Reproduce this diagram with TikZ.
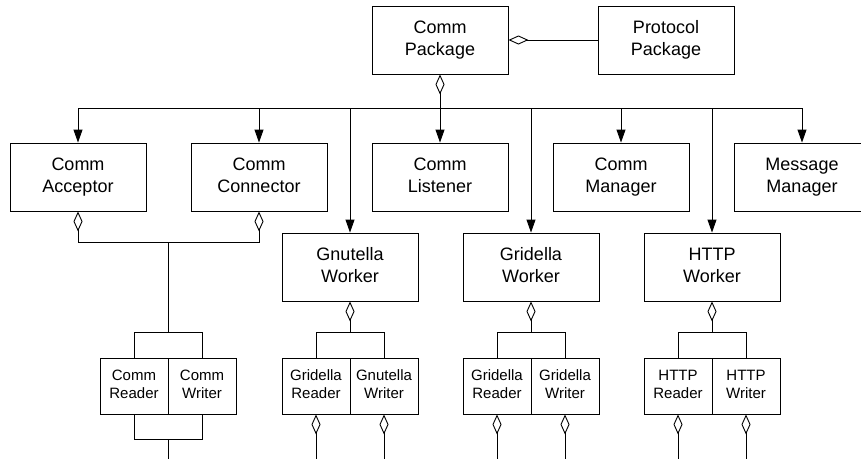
\documentclass[tikz,border=0pt]{standalone}
\usepackage{fontspec}
\setmainfont{Liberation Sans}
\usetikzlibrary{arrows.meta}
\newcommand{\twol}[2]{\strut #1\\\strut #2}
\begin{document}
\begin{tikzpicture}[x=1pt,y=-1pt,line width=0.9pt,
  bigbox/.style={draw, minimum width=136pt, minimum height=68pt, align=center, inner sep=0pt, font=\fontsize{18}{22}\selectfont},
  smallbox/.style={draw, minimum width=68pt, minimum height=56pt, align=center, inner sep=0pt, font=\fontsize{15}{18}\selectfont},
  agg/.style={{Diamond[open,length=20pt,width=9pt]}-},
  arr/.style={-{Triangle[length=13pt,width=9pt]}}]
\useasboundingbox (0,0) rectangle (861,459);
% top
\node[bigbox] (cp) at (440,40) {\twol{Comm}{Package}};
\node[bigbox] (pp) at (666,40) {\twol{Protocol}{Package}};
% row 2
\node[bigbox] (ca) at (78,177) {\twol{Comm}{Acceptor}};
\node[bigbox] (cc) at (259,177) {\twol{Comm}{Connector}};
\node[bigbox] (cl) at (440,177) {\twol{Comm}{Listener}};
\node[bigbox] (cm) at (621,177) {\twol{Comm}{Manager}};
\node[bigbox] (mm) at (802,177) {\twol{Message}{Manager}};
% workers
\node[bigbox] (gw) at (350,267) {\twol{Gnutella}{Worker}};
\node[bigbox] (grw) at (531,267) {\twol{Gridella}{Worker}};
\node[bigbox] (hw) at (712,267) {\twol{HTTP}{Worker}};
% readers / writers
\node[smallbox] (cr) at (134,386) {\twol{Comm}{Reader}};
\node[smallbox] (cwr) at (202,386) {\twol{Comm}{Writer}};
\node[smallbox] (gr) at (316,386) {\twol{Gridella}{Reader}};
\node[smallbox] (gwt) at (384,386) {\twol{Gnutella}{Writer}};
\node[smallbox] (grr) at (497,386) {\twol{Gridella}{Reader}};
\node[smallbox] (grwt) at (565,386) {\twol{Gridella}{Writer}};
\node[smallbox] (hr) at (678,386) {\twol{HTTP}{Reader}};
\node[smallbox] (hwt) at (746,386) {\twol{HTTP}{Writer}};
% coordinates
\coordinate (busL) at (78,108);
\coordinate (busR) at (803,108);
\coordinate (bot) at (0,459);
\coordinate (cj) at (168,242);
\coordinate (cb) at (168,332);
\coordinate (cbb) at (168,439);
\coordinate (gb) at (350,332);
\coordinate (grb) at (531,332);
\coordinate (hb) at (712,332);
% connectors top
\draw[agg] (cp.east) -- (pp.west);
\draw[agg] (cp.south) -- (cp.south |- busL);
\draw (busL) -- (busR);
\draw[arr] (ca.north |- busL) -- (ca.north);
\draw[arr] (cc.north |- busL) -- (cc.north);
\draw[arr] (cl.north |- busL) -- (cl.north);
\draw[arr] (cm.north |- busL) -- (cm.north);
\draw[arr] (mm.north |- busL) -- (mm.north);
\draw[arr] (gw.north |- busL) -- (gw.north);
\draw[arr] (grw.north |- busL) -- (grw.north);
\draw[arr] (hw.north |- busL) -- (hw.north);
% comm group
\draw[agg] (ca.south) |- (cj);
\draw[agg] (cc.south) |- (cj);
\draw (cj) -- (cb);
\draw (cr.north) |- (cb) -| (cwr.north);
\draw (cr.south) |- (cbb) -| (cwr.south);
\draw (cbb) -- (cbb |- bot);
% gnutella group
\draw[agg] (gw.south) -- (gb);
\draw (gr.north) |- (gb) -| (gwt.north);
\draw[agg] (gr.south) -- (gr.south |- bot);
\draw[agg] (gwt.south) -- (gwt.south |- bot);
% gridella group
\draw[agg] (grw.south) -- (grb);
\draw (grr.north) |- (grb) -| (grwt.north);
\draw[agg] (grr.south) -- (grr.south |- bot);
\draw[agg] (grwt.south) -- (grwt.south |- bot);
% http group
\draw[agg] (hw.south) -- (hb);
\draw (hr.north) |- (hb) -| (hwt.north);
\draw[agg] (hr.south) -- (hr.south |- bot);
\draw[agg] (hwt.south) -- (hwt.south |- bot);
\end{tikzpicture}
\end{document}
